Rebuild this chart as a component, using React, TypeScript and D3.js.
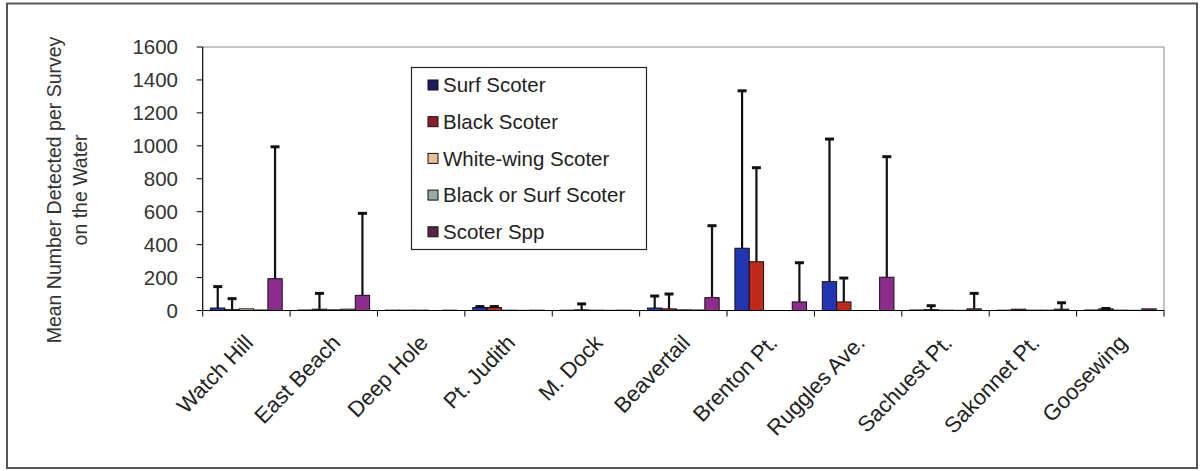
import React from "react";
import * as d3 from "d3";

const categories = [
  "Watch Hill", "East Beach", "Deep Hole", "Pt. Judith", "M. Dock", "Beavertail",
  "Brenton Pt.", "Ruggles Ave.", "Sachuest Pt.", "Sakonnet Pt.", "Goosewing",
];
const seriesNames = ["Surf Scoter", "Black Scoter", "White-wing  Scoter", "Black or Surf Scoter", "Scoter Spp"];

const surfScoter = [15, 3, 2, 18, 2, 15, 378, 175, 3, 2, 3];
const blackScoter = [5, 8, 2, 18, 4, 10, 296, 52, 5, 8, 10];
const whiteWing = [10, 4, 2, 2, 2, 4, 0, 0, 2, 2, 2];
const blackOrSurf = [3, 8, 0, 1, 1, 3, 0, 0, 1, 2, 1];
const scoterSpp = [193, 92, 2, 2, 2, 78, 52, 202, 10, 8, 10];

// upper end of each error bar (null where none is visible)
const surfErr = [145, null, null, 24, null, 88, 1334, 1041, null, null, null];
const blackErr = [72, 104, null, 24, 40, 100, 867, 197, 29, null, 12];
const whiteWingErr = [null, null, null, null, null, null, null, null, null, null, null];
const blackOrSurfErr = [null, null, null, null, null, null, null, null, null, null, null];
const scoterSppErr = [994, 590, null, null, null, 515, 290, 934, 104, 47, null];

const yTicks = [0, 200, 400, 600, 800, 1000, 1200, 1400, 1600];

const barColors = ["#2236b4", "#c02a1c", "#f4c8a4", "#a4c0b4", "#8e2c8e"];
const swatchColors = ["#1c1c64", "#8c1c2c", "#ecbc9c", "#94aca4", "#5c2444"];

const seriesValues = [surfScoter, blackScoter, whiteWing, blackOrSurf, scoterSpp];
const seriesErrs = [surfErr, blackErr, whiteWingErr, blackOrSurfErr, scoterSppErr];

const FONT = "'Liberation Sans', Arial, sans-serif";

export default function App() {
  const W = 1204, H = 471;
  const left = 202.7, right = 1164, top = 47, bottom = 310.5;
  const x = d3.scaleBand<string>().domain(categories).range([left, right]).padding(0);
  const xi = d3.scaleBand<number>().domain(d3.range(5)).range([0, x.bandwidth()]).paddingInner(0).paddingOuter(0.55);
  const y = d3.scaleLinear().domain([0, 1600]).range([bottom, top]);

  const boundaries = d3.range(categories.length + 1).map((i) => left + i * x.step());

  return (
    <div style={{ position: "absolute", left: 0, top: 0 }}>
      <svg width={W} height={H} style={{ display: "block", background: "#fff" }} fontFamily={FONT}>
        <rect x={0} y={0} width={W} height={H} fill="#fff" />
        <rect x={7} y={3.5} width={1190} height={464.5} fill="none" stroke="#555" strokeWidth={2} />
        {/* plot border */}
        <line x1={left} x2={right} y1={top} y2={top} stroke="#888" strokeWidth={1} />
        <line x1={right} x2={right} y1={top} y2={bottom} stroke="#888" strokeWidth={1} />

        {/* bars */}
        {seriesValues.map((vals, s) =>
          vals.map((v, i) => {
            const bx = (x(categories[i]) as number) + (xi(s) as number);
            const bw = xi.bandwidth();
            return (
              <rect key={`b${s}-${i}`} x={bx} y={y(v)} width={bw} height={Math.max(0, bottom - y(v))}
                fill={barColors[s]} stroke="#111" strokeWidth={1} />
            );
          })
        )}
        {/* error bars */}
        {seriesErrs.map((errs, s) =>
          errs.map((e, i) => {
            if (e == null) return null;
            const cx = (x(categories[i]) as number) + (xi(s) as number) + xi.bandwidth() / 2;
            return (
              <g key={`e${s}-${i}`} stroke="#111">
                <line x1={cx} x2={cx} y1={y(seriesValues[s][i])} y2={y(e)} strokeWidth={2.2} />
                <line x1={cx - 4.5} x2={cx + 4.5} y1={y(e)} y2={y(e)} strokeWidth={3} />
              </g>
            );
          })
        )}

        {/* axes */}
        <line x1={left} x2={left} y1={top} y2={bottom} stroke="#000" strokeWidth={1.2} />
        <line x1={left} x2={right} y1={bottom} y2={bottom} stroke="#000" strokeWidth={1.2} />
        {yTicks.map((t) => (
          <g key={`yt${t}`}>
            <line x1={left - 6} x2={left} y1={y(t)} y2={y(t)} stroke="#000" strokeWidth={1} />
            <text x={178} y={y(t)} dy="0.36em" textAnchor="end" fontSize={20.5} fill="#333">{t}</text>
          </g>
        ))}
        {boundaries.map((bx, i) => (
          <line key={`xt${i}`} x1={bx} x2={bx} y1={bottom} y2={bottom + 6} stroke="#000" strokeWidth={1} />
        ))}
        {categories.map((c) => {
          const cx = (x(c) as number) + x.bandwidth() / 2 + 8;
          return (
            <text key={`xl${c}`} transform={`translate(${cx},${344}) rotate(-46)`} textAnchor="end"
              fontSize={22} fill="#222">{c}</text>
          );
        })}

        {/* y title */}
        <g transform="translate(61,190) rotate(-90)">
          <text x={0} y={0} textAnchor="middle" fontSize={19.5} fill="#333">Mean Number Detected per Survey</text>
          <text x={0} y={26} textAnchor="middle" fontSize={19.5} fill="#333">on the Water</text>
        </g>

        {/* legend */}
        <rect x={411.5} y={67.5} width={235} height={182} fill="#fff" stroke="#222" strokeWidth={1.2} />
        {seriesNames.map((n, i) => {
          const cy = 85 + i * 36.7;
          return (
            <g key={`lg${i}`}>
              <rect x={428} y={cy - 5} width={10} height={10} fill={swatchColors[i]} stroke="#111" strokeWidth={1} />
              <text x={443} y={cy} dy="0.36em" fontSize={20.5} fill="#222">{n}</text>
            </g>
          );
        })}
      </svg>
    </div>
  );
}
